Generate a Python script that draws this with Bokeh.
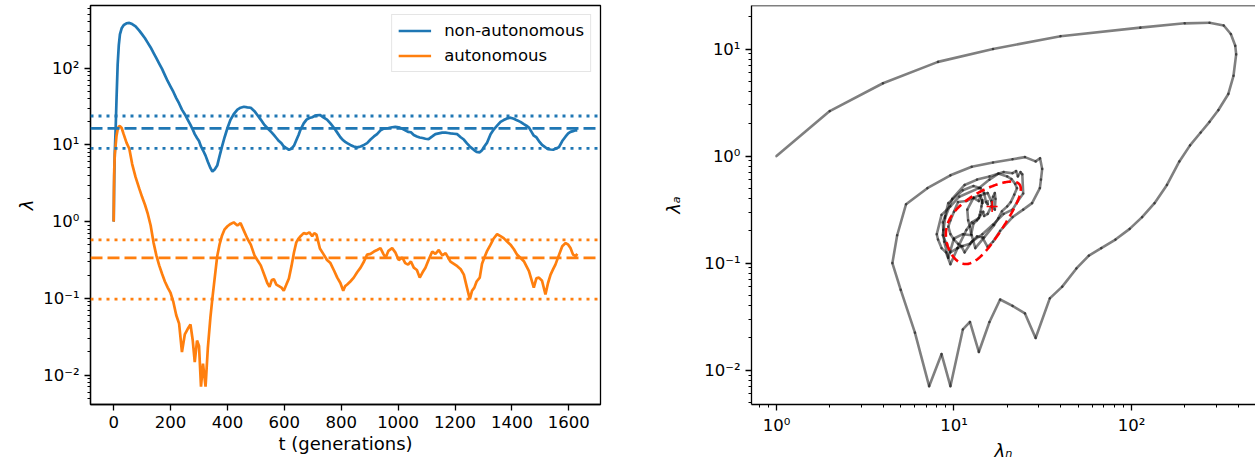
import numpy as np
from bokeh.plotting import figure
from bokeh.models import (Range1d, FixedTicker, CustomJSTickFormatter, Span,
                          Legend, LegendItem, ColumnDataSource)
from bokeh.layouts import row
from bokeh.embed import file_html
from bokeh.resources import INLINE

# ---------------- data ----------------
t = [0, 1, 2, 4, 7, 10, 14, 18, 22, 28,
     35, 45, 55, 65, 77, 90, 100, 110, 120, 130,
     140, 150, 160, 170, 180, 190, 200, 210, 220, 230,
     240, 250, 260, 270, 278, 285, 293, 300, 307, 314,
     323, 331, 340, 347, 355, 364, 372, 381, 390, 400,
     411, 422, 435, 446, 458, 470, 482, 495, 505, 517,
     530, 540, 548, 556, 563, 572, 581, 590, 598, 606,
     616, 625, 634, 642, 650, 657, 668, 678, 688, 698,
     705, 713, 725, 737, 750, 762, 775, 786, 797, 807,
     814, 821, 832, 844, 856, 868, 880, 891, 903, 915,
     926, 938, 948, 956, 966, 979, 990, 1002, 1015, 1025,
     1035, 1045, 1055, 1066, 1076, 1086, 1096, 1107, 1120, 1131,
     1143, 1155, 1167, 1176, 1184, 1196, 1208, 1220, 1231, 1242,
     1252, 1260, 1268, 1276, 1287, 1295, 1303, 1313, 1325, 1336,
     1348, 1360, 1371, 1383, 1395, 1407, 1418, 1430, 1442, 1451,
     1460, 1469, 1477, 1486, 1495, 1506, 1518, 1527, 1536, 1545,
     1553, 1565, 1577, 1589, 1598, 1606, 1615, 1624, 1630]

# log10 of lambda, read on the log axis
log10_lambda_n = [0.00, 0.30, 0.60, 0.91, 1.22, 1.60, 2.05, 2.30, 2.44, 2.52,
                  2.56, 2.585, 2.59, 2.575, 2.546, 2.49, 2.44, 2.39, 2.33, 2.27,
                  2.20, 2.13, 2.06, 1.99, 1.91, 1.83, 1.76, 1.69, 1.61, 1.54,
                  1.46, 1.40, 1.33, 1.26, 1.20, 1.14, 1.09, 1.05, 0.98, 0.93,
                  0.86, 0.78, 0.70, 0.653, 0.68, 0.73, 0.85, 0.98, 1.10, 1.22,
                  1.33, 1.40, 1.46, 1.485, 1.497, 1.49, 1.484, 1.44, 1.39, 1.33,
                  1.26, 1.22, 1.19, 1.16, 1.13, 1.09, 1.05, 1.02, 0.98, 0.96,
                  0.937, 0.95, 0.99, 1.06, 1.13, 1.20, 1.28, 1.33, 1.35, 1.36,
                  1.375, 1.385, 1.39, 1.36, 1.33, 1.28, 1.22, 1.16, 1.10, 1.06,
                  1.04, 1.023, 1.00, 0.98, 0.968, 0.98, 1.00, 1.023, 1.07, 1.11,
                  1.14, 1.19, 1.21, 1.215, 1.22, 1.23, 1.234, 1.23, 1.21, 1.19,
                  1.17, 1.165, 1.13, 1.11, 1.097, 1.09, 1.08, 1.075, 1.11, 1.14,
                  1.15, 1.16, 1.16, 1.155, 1.15, 1.145, 1.14, 1.10, 1.07, 1.02,
                  0.98, 0.955, 0.93, 0.91, 0.903, 0.93, 0.98, 1.03, 1.14, 1.20,
                  1.25, 1.30, 1.324, 1.345, 1.355, 1.34, 1.32, 1.30, 1.27, 1.25,
                  1.226, 1.17, 1.12, 1.10, 1.05, 1.00, 0.968, 0.945, 0.94, 0.937,
                  0.95, 0.968, 1.05, 1.11, 1.15, 1.17, 1.18, 1.19, 1.19]

log10_lambda_a = [0.00, 0.42, 0.68, 0.88, 1.00, 1.12, 1.20, 1.24, 1.245, 1.22,
                  1.14, 1.03, 0.95, 0.75, 0.58, 0.43, 0.32, 0.22, 0.10, -0.05,
                  -0.27, -0.44, -0.57, -0.68, -0.78, -0.86, -0.93, -1.05, -1.22, -1.33,
                  -1.70, -1.47, -1.40, -1.34, -1.55, -1.83, -1.55, -1.62, -2.15, -1.85,
                  -2.15, -1.65, -1.25, -1.00, -0.74, -0.45, -0.30, -0.18, -0.10, -0.06,
                  -0.03, -0.01, -0.05, -0.02, -0.12, -0.22, -0.30, -0.44, -0.50, -0.57,
                  -0.70, -0.80, -0.85, -0.76, -0.75, -0.82, -0.84, -0.86, -0.90, -0.83,
                  -0.74, -0.58, -0.40, -0.27, -0.22, -0.19, -0.15, -0.16, -0.14, -0.19,
                  -0.15, -0.17, -0.35, -0.42, -0.50, -0.54, -0.64, -0.73, -0.80, -0.90,
                  -0.84, -0.82, -0.78, -0.73, -0.66, -0.60, -0.52, -0.43, -0.42, -0.39,
                  -0.37, -0.345, -0.42, -0.47, -0.38, -0.345, -0.40, -0.50, -0.47, -0.54,
                  -0.56, -0.52, -0.60, -0.63, -0.73, -0.66, -0.60, -0.50, -0.39, -0.42,
                  -0.37, -0.44, -0.41, -0.47, -0.52, -0.55, -0.58, -0.62, -0.69, -0.86,
                  -1.01, -0.90, -0.86, -0.78, -0.73, -0.55, -0.47, -0.38, -0.30, -0.22,
                  -0.164, -0.19, -0.215, -0.26, -0.30, -0.36, -0.43, -0.47, -0.516, -0.58,
                  -0.645, -0.76, -0.86, -0.74, -0.73, -0.77, -0.95, -0.80, -0.69, -0.62,
                  -0.56, -0.44, -0.32, -0.28, -0.30, -0.345, -0.43, -0.45, -0.42]

# statistics of the stationary part (mean and standard deviation)
mean_n, std_n = 16.4, 7.4
mean_a, std_a = 0.338, 0.240
corr_na = 0.64

series_labels = ["non-autonomous", "autonomous"]
x_ticks_left = [0, 200, 400, 600, 800, 1000, 1200, 1400, 1600]

# ---------------- styling ----------------
FONT = "DejaVu Sans"
BLUE = "#1f77b4"
ORANGE = "#ff7f0e"

lam_n = 10.0 ** np.array(log10_lambda_n)
lam_a = 10.0 ** np.array(log10_lambda_a)

sup_js = """
const e = Math.round(Math.log10(tick));
const m = {"-":"\u207b","0":"\u2070","1":"\u00b9","2":"\u00b2","3":"\u00b3",
           "4":"\u2074","5":"\u2075","6":"\u2076","7":"\u2077","8":"\u2078","9":"\u2079"};
return "10" + String(e).split("").map(c => m[c]).join("");
"""


def log_ticker(lo, hi):
    majors = [10.0 ** k for k in range(lo, hi + 1)]
    minors = [m * 10.0 ** k for k in range(lo - 1, hi + 1) for m in range(2, 10)]
    return FixedTicker(ticks=majors, minor_ticks=minors)


def style_axis(ax, label, italic=False, standoff=8):
    ax.axis_label = label
    ax.axis_line_color = "black"
    ax.axis_line_width = 1.3
    ax.major_tick_line_color = "black"
    ax.major_tick_line_width = 1.3
    ax.major_tick_out = 6
    ax.major_tick_in = 0
    ax.minor_tick_line_color = "black"
    ax.minor_tick_line_width = 1.0
    ax.minor_tick_out = 3
    ax.minor_tick_in = 0
    ax.major_label_text_font = FONT
    ax.major_label_text_font_size = "16.5px"
    ax.major_label_text_color = "black"
    ax.major_label_standoff = 5
    ax.axis_label_text_font = FONT
    ax.axis_label_text_font_size = "18px"
    ax.axis_label_text_color = "black"
    ax.axis_label_text_font_style = "italic" if italic else "normal"
    ax.axis_label_standoff = standoff


common = dict(height=463, output_backend="svg", toolbar_location=None,
              min_border_top=5, min_border_bottom=55,
              background_fill_color="white", border_fill_color="white")

# ---------------- left: time series ----------------
p1 = figure(width=658, x_range=Range1d(-81.5, 1711.5),
            y_range=Range1d(0.004137, 655.8), y_axis_type="log",
            min_border_left=90, min_border_right=58, **common)
p1.grid.visible = False
p1.outline_line_color = "black"
p1.outline_line_width = 1.3

src = ColumnDataSource(dict(t=t, lam_n=lam_n, lam_a=lam_a))
r_n = p1.line("t", "lam_n", source=src, line_color=BLUE, line_width=2.7)
r_a = p1.line("t", "lam_a", source=src, line_color=ORANGE, line_width=2.7)

for mu, sd, col in [(mean_n, std_n, BLUE), (mean_a, std_a, ORANGE)]:
    p1.add_layout(Span(location=mu, dimension="width", line_color=col,
                       line_width=2.8, line_dash="12 5"))
    p1.add_layout(Span(location=mu + sd, dimension="width", line_color=col,
                       line_width=2.8, line_dash="3 5"))
    p1.add_layout(Span(location=mu - sd, dimension="width", line_color=col,
                       line_width=2.8, line_dash="3 5"))

p1.xaxis.ticker = FixedTicker(ticks=x_ticks_left, minor_ticks=[])
p1.yaxis.ticker = log_ticker(-2, 2)
p1.yaxis.formatter = CustomJSTickFormatter(code=sup_js)
style_axis(p1.xaxis[0], "t (generations)", standoff=2)
style_axis(p1.yaxis[0], "\u03bb", italic=True, standoff=3)

legend = Legend(items=[LegendItem(label=series_labels[0], renderers=[r_n]),
                       LegendItem(label=series_labels[1], renderers=[r_a])],
                location="top_right")
legend.border_line_color = "#cccccc"
legend.border_line_width = 1
legend.background_fill_alpha = 0.8
legend.label_text_font = FONT
legend.label_text_font_size = "16.5px"
legend.label_text_color = "black"
legend.glyph_width = 33
legend.glyph_height = 17
legend.label_height = 17
legend.label_standoff = 13
legend.padding = 6
legend.spacing = 6
legend.margin = 9
p1.add_layout(legend)

# ---------------- right: phase portrait ----------------
p2 = figure(width=597, x_range=Range1d(0.723, 500.0), y_range=Range1d(0.004775, 25.5),
            x_axis_type="log", y_axis_type="log",
            min_border_left=93, min_border_right=0, **common)
p2.grid.visible = False
p2.outline_line_color = None

seg = ColumnDataSource(dict(x0=lam_n[:-1], y0=lam_a[:-1], x1=lam_n[1:], y1=lam_a[1:]))
p2.segment("x0", "y0", "x1", "y1", source=seg, line_color="black", line_alpha=0.5,
           line_width=2.6, line_cap="round")

theta = np.linspace(0, 2 * np.pi, 200)
ell_x = mean_n + std_n * np.cos(theta)
ell_y = mean_a + std_a * (corr_na * np.cos(theta) + np.sqrt(1 - corr_na ** 2) * np.sin(theta))
p2.line(ell_x, ell_y, line_color="red", line_width=2.6, line_dash="9 5")
p2.scatter([mean_n], [mean_a], marker="cross", size=11, line_color="red", line_width=1.6)

p2.add_layout(Span(location=25.5, dimension="width", line_color="black", line_width=1.3))

p2.xaxis.ticker = log_ticker(0, 2)
p2.yaxis.ticker = log_ticker(-2, 1)
p2.xaxis.formatter = CustomJSTickFormatter(code=sup_js)
p2.yaxis.formatter = CustomJSTickFormatter(code=sup_js)
style_axis(p2.xaxis[0], "\u03bb\u2099", italic=True, standoff=2)
style_axis(p2.yaxis[0], "\u03bb\u2090", italic=True, standoff=17)

layout = row(p1, p2)
open("out.html", "w").write(file_html(layout, INLINE))
